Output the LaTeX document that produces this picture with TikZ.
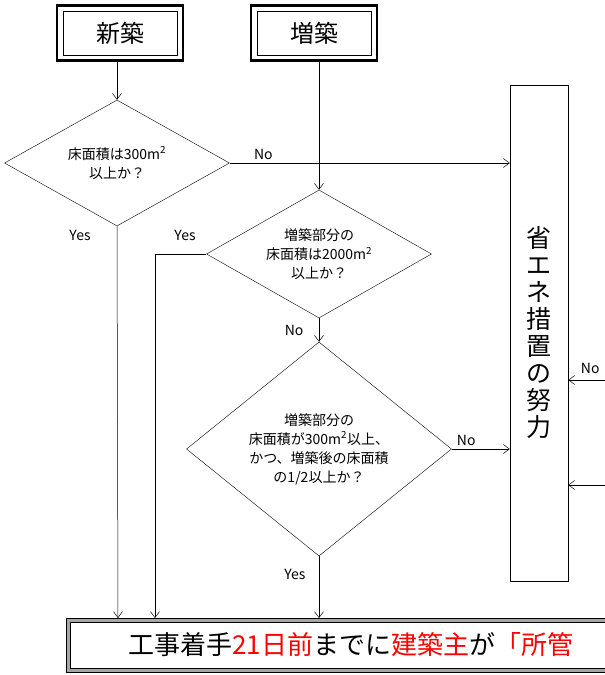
\documentclass[tikz,border=0pt]{standalone}
\usepackage{fontspec}
\setmainfont{Noto Sans CJK JP}
\usetikzlibrary{shapes.geometric,arrows.meta}
\begin{document}
\begin{tikzpicture}[x=1pt,y=-1pt,
  dia/.style={draw,diamond,aspect=1.75,inner sep=0pt,align=center,font=\fontsize{14}{19}\selectfont},
  arr/.style={-{Straight Barb[length=6pt,width=9pt]},line width=0.5pt},
  lbl/.style={font=\fontsize{14}{16}\selectfont}]
\useasboundingbox (0,0) rectangle (605,675);
\node[draw,line width=2.5pt,minimum width=126pt,minimum height=55pt,inner sep=0pt] (n) at (120,33) {};
\node[draw,line width=1pt,minimum width=114pt,minimum height=44pt,font=\fontsize{24}{26}\selectfont] at (120,33) {新築};
\node[draw,line width=2.5pt,minimum width=126pt,minimum height=55pt,inner sep=0pt] (z) at (314,33) {};
\node[draw,line width=1pt,minimum width=114pt,minimum height=44pt,font=\fontsize{24}{26}\selectfont] at (314,33) {増築};
\node[dia,minimum width=225pt,minimum height=126pt] (d1) at (117,163) {床面積は300m\textsuperscript{2}\\以上か？};
\node[dia,minimum width=225pt,minimum height=128pt] (d2) at (319,254) {増築部分の\\床面積は2000m\textsuperscript{2}\\以上か？};
\node[dia,minimum width=254pt,minimum height=214pt] (d3) at (319,449) {増築部分の\\床面積が300m\textsuperscript{2}以上、\\かつ、増築後の床面積\\の1/2以上か？};
\node[draw,minimum width=58pt,minimum height=496pt,inner sep=0pt,font=\fontsize{25}{27}\selectfont,align=center] (r) at (539,333)
  {省\\エ\\ネ\\措\\置\\の\\努\\力};
\begin{scope}
\clip (60,612) rectangle (605,675);
\draw[line width=4pt,gray!70] (68,620) rectangle (640,670);
\draw[line width=1pt] (66,618) rectangle (642,672);
\draw[line width=1pt] (70,622) rectangle (638,668);
\end{scope}
\node[anchor=west,font=\fontsize{26}{28}\selectfont,inner sep=0pt] (bt) at (128,645) {工事着手\textcolor{red}{21日前}までに\textcolor{red}{建築主}が\textcolor{red}{「所管}};
\coordinate (b1) at (118,618); \coordinate (b2) at (155,618); \coordinate (b3) at (319,618);
\coordinate (ra) at (605,380); \coordinate (rb) at (605,485);
\draw[arr] (n.south -| d1.north) -- (d1.north);
\draw[arr] (z.south -| d2.north) -- (d2.north);
\draw[arr] (d1.south) -- (b1);
\draw[arr] (d1.east) -- (d1.east -| r.west) node[lbl,pos=0.12,above] {No};
\draw[arr] (d2.west) -- (155,254) -- (b2);
\node[lbl] at (185,235) {Yes};
\node[lbl] at (80,235) {Yes};
\draw[arr] (d2.south) -- (d3.north) node[lbl,midway,left=12pt] {No};
\draw[arr] (d3.east) -- (d3.east -| r.west) node[lbl,pos=0.25,above] {No};
\draw[arr] (d3.south) -- (b3) node[lbl,pos=0.3,left=10pt] {Yes};
\draw[arr] (ra) -- (ra -| r.east) node[lbl,pos=0.4,above=3pt] {No};
\draw[arr] (rb) -- (rb -| r.east);
\end{tikzpicture}
\end{document}
